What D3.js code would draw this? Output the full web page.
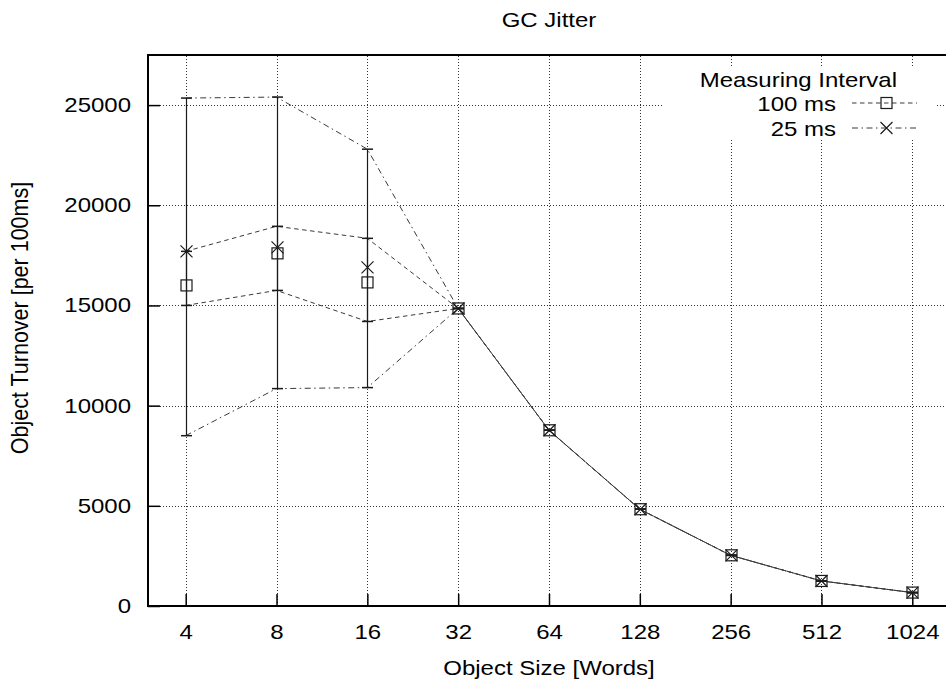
<!DOCTYPE html>
<html>
<head>
<meta charset="utf-8">
<script src="https://cdn.jsdelivr.net/npm/d3@7"></script>
<style>
body { margin: 0; background: #fff; }
text { font-family: "Liberation Sans", Arial, Helvetica, sans-serif; fill: #000; }
</style>
</head>
<body>
<svg id="chart" width="946" height="682"></svg>
<script>

// object sizes in words (x axis, log2)
var aSizes = [4, 8, 16, 32, 64, 128, 256, 512, 1024];
var aYTicks = [0, 5000, 10000, 15000, 20000, 25000];

// 100 ms measuring interval
var aMean100 = [16000, 17600, 16150, 14850, 8770, 4830, 2530, 1250, 670];
var aMin100  = [15000, 15750, 14200, 14850, 8770, 4830, 2530, 1250, 670];
var aMax100  = [17700, 18950, 18350, 14850, 8770, 4830, 2530, 1250, 670];

// 25 ms measuring interval
var aMean25 = [17700, 17900, 16900, 14850, 8770, 4830, 2530, 1250, 670];
var aMin25  = [8500, 10850, 10900, 14850, 8770, 4830, 2530, 1250, 670];
var aMax25  = [25350, 25400, 22800, 14850, 8770, 4830, 2530, 1250, 670];

var strTitle = 'GC Jitter';
var strXLabel = 'Object Size [Words]';
var strYLabel = 'Object Turnover [per 100ms]';
var strLegendTitle = 'Measuring Interval';


function DrawJitterChart(vSelector)
{
	var sSvg = d3.select(vSelector);

	var nLeft = 148;
	var nRight = 950;	// frame runs off the right edge like the original
	var nTop = 55;
	var nBottom = 606;
	var fStretch = 1.2;	// text in the original is wider than it is tall
	var strInk = '#1a1a1a';
	var strLineInk = '#3a3a3a';

	var scaleX = d3.scaleLog()
		.base(2)
		.domain([3, 4096 / 3])
		.range([nLeft, nRight]);

	var scaleY = d3.scaleLinear()
		.domain([0, 27500])
		.range([nBottom, nTop]);

	function AddText(sParent, x, y, strText, strAnchor, nSize)
	{
		return sParent.append('g')
			.attr('transform', 'translate(' + x + ',' + y + ')')
			.append('text')
				.attr('text-anchor', strAnchor)
				.attr('font-size', nSize)
				.attr('transform', 'scale(' + fStretch + ',1)')
				.text(strText);
	}

	// grid
	var sGrid = sSvg.append('g')
		.attr('stroke', '#333')
		.attr('stroke-width', 1)
		.attr('stroke-dasharray', '1,2');

	sGrid.selectAll('.grid-x')
		.data(aSizes)
		.enter()
			.append('line')
				.attr('class', 'grid-x')
				.attr('x1', function(d) { return Math.round(scaleX(d)) + 0.5; })
				.attr('x2', function(d) { return Math.round(scaleX(d)) + 0.5; })
				.attr('y1', nBottom)
				.attr('y2', nTop);

	sGrid.selectAll('.grid-y')
		.data(aYTicks.slice(1))
		.enter()
			.append('line')
				.attr('class', 'grid-y')
				.attr('x1', nLeft)
				.attr('x2', nRight)
				.attr('y1', function(d) { return Math.round(scaleY(d)) + 0.5; })
				.attr('y2', function(d) { return Math.round(scaleY(d)) + 0.5; });

	// legend background hides the grid behind the key
	sSvg.append('rect')
		.attr('x', 663)
		.attr('y', 66)
		.attr('width', 272)
		.attr('height', 73)
		.attr('fill', '#fff');

	// axes
	var axisY = d3.axisLeft(scaleY)
		.tickValues(aYTicks)
		.tickSize(-12)
		.tickPadding(17)
		.tickFormat(d3.format('d'));

	var sAxisY = sSvg.append('g')
		.attr('transform', 'translate(' + nLeft + ',0)')
		.call(axisY);
	sAxisY.select('.domain').remove();
	sAxisY.selectAll('line').attr('stroke', '#000').attr('stroke-width', 1.5);
	sAxisY.selectAll('text')
		.attr('font-size', 20)
		.attr('font-family', '"Liberation Sans", Arial, sans-serif')
		.attr('fill', '#000')
		.attr('x', -17 / fStretch)
		.attr('dy', '0.32em')
		.attr('transform', 'scale(' + fStretch + ',1)');

	var axisX = d3.axisBottom(scaleX)
		.tickValues(aSizes)
		.tickSize(-12)
		.tickPadding(19)
		.tickFormat(d3.format('d'));

	var sAxisX = sSvg.append('g')
		.attr('transform', 'translate(0,' + nBottom + ')')
		.call(axisX);
	sAxisX.select('.domain').remove();
	sAxisX.selectAll('line').attr('stroke', '#000').attr('stroke-width', 1.5);
	sAxisX.selectAll('text')
		.attr('font-size', 20)
		.attr('font-family', '"Liberation Sans", Arial, sans-serif')
		.attr('fill', '#000')
		.attr('transform', 'scale(' + fStretch + ',1)');

	// frame (left, bottom, top)
	sSvg.append('path')
		.attr('d', 'M' + nRight + ',' + nTop + 'H' + nLeft + 'V' + nBottom + 'H' + nRight)
		.attr('fill', 'none')
		.attr('stroke', '#000')
		.attr('stroke-width', 2);

	// series
	var aSeries = [
		{ label: '100 ms', mean: aMean100, min: aMin100, max: aMax100, dash: '4.5,3.5', marker: 'square' },
		{ label: '25 ms', mean: aMean25, min: aMin25, max: aMax25, dash: '6,3.5,1.5,3.5', marker: 'cross' }
	];

	function DrawMarker(sParent, x, y, strMarker)
	{
		if (strMarker == 'square')
		{
			sParent.append('rect')
				.attr('x', x - 5.5)
				.attr('y', y - 5.5)
				.attr('width', 11)
				.attr('height', 11)
				.attr('fill', 'none')
				.attr('stroke', strInk)
				.attr('stroke-width', 1.2);
		}
		else
		{
			sParent.append('path')
				.attr('d', 'M' + (x - 6) + ',' + (y - 6) + 'L' + (x + 6) + ',' + (y + 6) +
					'M' + (x - 6) + ',' + (y + 6) + 'L' + (x + 6) + ',' + (y - 6))
				.attr('fill', 'none')
				.attr('stroke', strInk)
				.attr('stroke-width', 1.2);
		}
	}

	var sPlot = sSvg.append('g');

	aSeries.forEach(function(series)
	{
		var lineGen = d3.line()
			.x(function(d, i) { return scaleX(aSizes[i]); })
			.y(function(d) { return scaleY(d); });

		[series.min, series.max].forEach(function(aValues)
		{
			sPlot.append('path')
				.attr('d', lineGen(aValues))
				.attr('fill', 'none')
				.attr('stroke', strLineInk)
				.attr('stroke-width', 1)
				.attr('stroke-dasharray', series.dash);
		});

		// error bars
		for (var nIndex = 0; nIndex < aSizes.length; nIndex++)
		{
			var x = Math.round(scaleX(aSizes[nIndex])) + 0.5;
			var yLow = scaleY(series.min[nIndex]);
			var yHigh = scaleY(series.max[nIndex]);
			sPlot.append('line')
				.attr('x1', x).attr('x2', x)
				.attr('y1', yLow).attr('y2', yHigh)
				.attr('stroke', strInk)
				.attr('stroke-width', 1.2);
			[yLow, yHigh].forEach(function(y)
			{
				sPlot.append('line')
					.attr('x1', x - 5.5).attr('x2', x + 5.5)
					.attr('y1', y).attr('y2', y)
					.attr('stroke', strInk)
					.attr('stroke-width', 1.5);
			});
		}
	});

	aSeries.forEach(function(series)
	{
		for (var nIndex = 0; nIndex < aSizes.length; nIndex++)
		{
			DrawMarker(sPlot, Math.round(scaleX(aSizes[nIndex])) + 0.5, scaleY(series.mean[nIndex]), series.marker);
		}
	});

	// legend
	AddText(sSvg, 897, 87, strLegendTitle, 'end', 20);
	aSeries.forEach(function(series, nIndex)
	{
		var y = 103 + nIndex * 25;
		AddText(sSvg, 836, y + 8, series.label, 'end', 20);
		sSvg.append('line')
			.attr('x1', 852).attr('x2', 917)
			.attr('y1', y).attr('y2', y)
			.attr('stroke', strLineInk)
			.attr('stroke-width', 1)
			.attr('stroke-dasharray', series.dash);
		DrawMarker(sSvg, 886.5, y, series.marker);
	});

	// titles
	AddText(sSvg, 549, 27, strTitle, 'middle', 20);
	AddText(sSvg, 549, 675, strXLabel, 'middle', 20);

	sSvg.append('g')
		.attr('transform', 'translate(28,318) rotate(-90)')
		.append('text')
			.attr('text-anchor', 'middle')
			.attr('font-size', 21.5)
			.attr('transform', 'scale(1,1.1)')
			.text(strYLabel);
}

DrawJitterChart('#chart');

</script>
</body>
</html>
